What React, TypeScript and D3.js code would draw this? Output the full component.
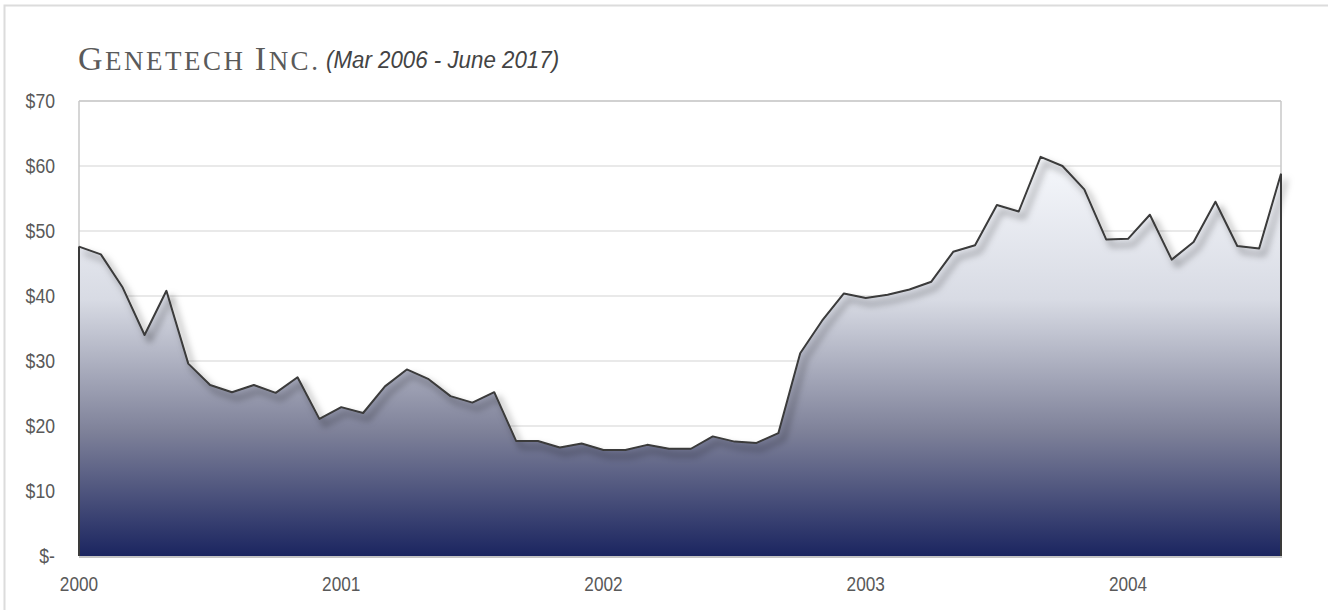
import * as d3 from 'd3';

const width = 1328;
const height = 610;
const margin = { top: 101, right: 47, bottom: 54, left: 79 };

// monthly closes, Jan 2000 .. Aug 2004
const months = d3.utcMonths(new Date(Date.UTC(2000, 0, 1)), new Date(Date.UTC(2004, 8, 1)));
const prices = [
  47.6, 46.4, 41.3, 34.0, 40.8, 29.6, 26.3, 25.2, 26.3, 25.1, 27.5, 21.1,
  22.9, 22.0, 26.1, 28.7, 27.2, 24.6, 23.6, 25.2, 17.7, 17.7, 16.7, 17.3,
  16.3, 16.3, 17.1, 16.5, 16.5, 18.4, 17.6, 17.4, 18.9, 31.2, 36.2, 40.4,
  39.7, 40.2, 41.0, 42.2, 46.8, 47.8, 54.0, 53.0, 61.4, 60.0, 56.4, 48.7,
  48.8, 52.5, 45.6, 48.3, 54.5, 47.7, 47.3, 58.8,
];
const yTicks = [0, 10, 20, 30, 40, 50, 60, 70];
const yearTicks = ['2000', '2001', '2002', '2003', '2004'];

const sans = "'Liberation Sans', Arial, sans-serif";

export default function App() {
  const left = margin.left;
  const right = width - margin.right;
  const top = margin.top;
  const bottom = height - margin.bottom;

  const keys = months.map((m) => d3.utcFormat('%Y-%m')(m));
  const x = d3.scalePoint<string>().domain(keys).range([left, right]);
  const y = d3.scaleLinear().domain([0, 70]).range([bottom, top]);

  const data = keys.map((k, i) => ({ k, v: prices[i] }));

  const area = d3.area<{ k: string; v: number }>()
    .x((d) => x(d.k) || 0)
    .y0(bottom)
    .y1((d) => y(d.v));
  const line = d3.line<{ k: string; v: number }>()
    .x((d) => x(d.k) || 0)
    .y((d) => y(d.v));

  const first = data[0];
  const last = data[data.length - 1];

  return (
    <svg width={width} height={height} style={{ position: 'absolute', left: 0, top: 0 }}>
      <defs>
        <linearGradient id="fillGrad" gradientUnits="userSpaceOnUse" x1={0} y1={155} x2={0} y2={bottom}>
          <stop offset="0" stopColor="#f6f8fc" />
          <stop offset="0.36" stopColor="#d8dbe4" />
          <stop offset="0.69" stopColor="#7e8199" />
          <stop offset="1" stopColor="#1b2560" />
        </linearGradient>
        <filter id="shadow" x="-5%" y="-10%" width="110%" height="130%">
          <feDropShadow dx={5} dy={6} stdDeviation={3.5} floodColor="#000" floodOpacity={0.6} />
        </filter>
      </defs>

      <rect x={4.5} y={5.5} width={1330} height={620} fill="none" stroke="#dcdcdc" strokeWidth={2} />

      {/* title */}
      <text x={78} y={70} fontFamily="'Liberation Serif', serif" fill="#5a5a5a" style={{ letterSpacing: '2.5px' }}>
        <tspan fontSize={34}>G</tspan>
        <tspan fontSize={27}>ENETECH </tspan>
        <tspan fontSize={34}>I</tspan>
        <tspan fontSize={27}>NC.</tspan>
      </text>
      <text transform="translate(326,68) scale(0.93,1)" fontFamily={sans} fontSize={24} fontStyle="italic" fill="#444">
        (Mar 2006 - June 2017)
      </text>

      {/* grid */}
      {yTicks.map((t) => (
        <line key={t} x1={left} x2={right} y1={y(t)} y2={y(t)} stroke="#e2e2e2" strokeWidth={1.5} />
      ))}
      <line x1={left} x2={right} y1={top} y2={top} stroke="#c8c8c8" strokeWidth={1.5} />
      <line x1={right} x2={right} y1={top} y2={bottom} stroke="#c8c8c8" strokeWidth={1.5} />
      <line x1={left} x2={left} y1={top} y2={bottom} stroke="#c8c8c8" strokeWidth={1.5} />

      {/* area */}
      <path d={area(data) || ''} fill="url(#fillGrad)" />
      <g filter="url(#shadow)">
        <path d={line(data) || ''} fill="none" stroke="#3a3a3a" strokeWidth={2} strokeLinejoin="round" />
      </g>
      <line x1={x(first.k)} x2={x(first.k)} y1={y(first.v)} y2={bottom} stroke="#3a3a3a" strokeWidth={2} />
      <line x1={x(last.k)} x2={x(last.k)} y1={y(last.v)} y2={bottom} stroke="#3a3a3a" strokeWidth={2} />
      <line x1={left} x2={right + 1} y1={bottom + 1} y2={bottom + 1} stroke="#c4c4c4" strokeWidth={2} />

      {/* y axis labels */}
      {yTicks.map((t) => (
        <text key={t} transform={`translate(55,${y(t)}) scale(0.84,1)`} dy="0.35em" textAnchor="end"
          fontFamily={sans} fontSize={21} fill="#595959">
          {t === 0 ? '$-' : `$${t}`}
        </text>
      ))}

      {/* x axis labels */}
      {yearTicks.map((yr) => (
        <text key={yr} transform={`translate(${x(`${yr}-01`)},591) scale(0.82,1)`} textAnchor="middle"
          fontFamily={sans} fontSize={21} fill="#595959">
          {yr}
        </text>
      ))}
    </svg>
  );
}
